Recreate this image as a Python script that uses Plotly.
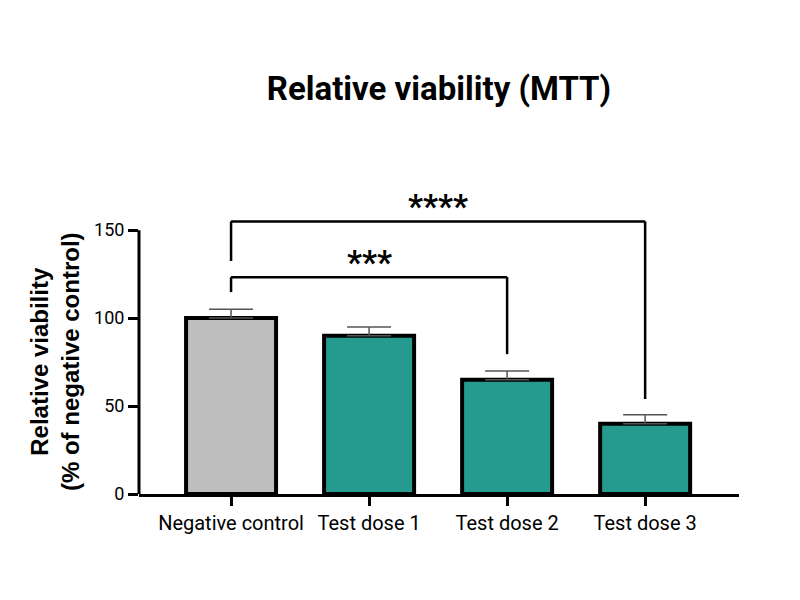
import plotly.graph_objects as go

categories = ["Negative control", "Test dose 1", "Test dose 2", "Test dose 3"]
values = [100, 90, 65, 40]
errors = [5, 5, 5, 5]
bar_colors = ["#BEBEBE", "#259A8F", "#259A8F", "#259A8F"]
y_ticks = [0, 50, 100, 150]

# significance brackets: (start cat, end cat, bracket height, left leg bottom, right leg bottom, label, label y)
brackets = [
    ("Negative control", "Test dose 2", 123.3, 114.8, 79.5, "***", 131.5),
    ("Negative control", "Test dose 3", 155.0, 132.5, 54.0, "****", 163.5),
]

FONT = "Roboto"
W, H = 792, 592

fig = go.Figure()
fig.add_trace(go.Bar(
    x=categories, y=values,
    width=0.652,
    marker=dict(color=bar_colors, line=dict(color="black", width=4)),
    error_y=dict(type="data", array=errors, arrayminus=[0] * len(errors),
                 symmetric=False, color="#555555", thickness=1.5, width=22),
    showlegend=False,
))

shapes = []
# y axis line from 0 to 150 only
shapes.append(dict(type="line", xref="paper", yref="y", x0=0, x1=0, y0=0, y1=y_ticks[-1],
                   line=dict(color="black", width=3)))
annotations = []
for a, b, h, l1, l2, lab, ly in brackets:
    shapes.append(dict(type="line", xref="x", yref="y", x0=a, x1=a, y0=l1, y1=h,
                       line=dict(color="black", width=2.5)))
    shapes.append(dict(type="line", xref="x", yref="y", x0=a, x1=b, y0=h, y1=h,
                       line=dict(color="black", width=2.5)))
    shapes.append(dict(type="line", xref="x", yref="y", x0=b, x1=b, y0=h, y1=l2,
                       line=dict(color="black", width=2.5)))
    ia, ib = categories.index(a), categories.index(b)
    annotations.append(dict(x=(ia + ib) / 2, y=ly, xref="x", yref="y", text=lab,
                            showarrow=False, yanchor="middle",
                            font=dict(family=FONT, size=33, color="black", weight="bold")))

# y axis title, centred on the 0-150 axis span
annotations.append(dict(
    text="<b>Relative viability<br>(% of negative control)</b>",
    xref="paper", x=0, xshift=-84, xanchor="center",
    yref="y", y=(y_ticks[0] + y_ticks[-1]) / 2, yanchor="middle",
    textangle=-90, showarrow=False,
    font=dict(family="Liberation Sans", size=24, color="black"),
))

fig.update_layout(
    width=W, height=H,
    paper_bgcolor="white", plot_bgcolor="white",
    margin=dict(l=131, r=61, t=187, b=106),
    title=dict(text="<b>Relative viability (MTT)</b>", x=0.5, xref="paper", xanchor="center",
               y=1 - 80 / H, yref="container", yanchor="middle",
               font=dict(family=FONT, size=33, color="black")),
    font=dict(family=FONT, color="black"),
    shapes=shapes,
    annotations=annotations,
)
fig.update_xaxes(
    type="category", range=[-0.667, 3.68],
    showline=True, linecolor="black", linewidth=3,
    ticks="outside", ticklen=9, tickwidth=3, tickcolor="black",
    tickfont=dict(family=FONT, size=20, color="black"),
    showgrid=False, zeroline=False,
)
fig.update_yaxes(
    range=[0, 170], tickvals=y_ticks,
    showline=False,
    ticks="outside", ticklen=10, tickwidth=3, tickcolor="black",
    tickfont=dict(family=FONT, size=18, color="black"),
    showgrid=False, zeroline=False,
)

fig.write_html("out.html")
